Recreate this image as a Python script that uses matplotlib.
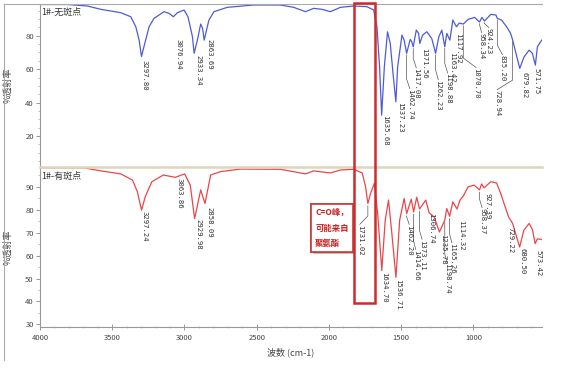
import matplotlib
matplotlib.use('Agg')
import matplotlib.pyplot as plt
import matplotlib.patheffects as pe
import matplotlib.transforms as mtransforms
from matplotlib.lines import Line2D
from matplotlib.patches import Rectangle
from matplotlib.ticker import MultipleLocator
import numpy as np

plt.rcParams['font.family'] = ['Noto Sans CJK SC', 'DejaVu Sans']

# ---------------------------------------------------------------------------
# Data: wavenumber (cm-1) and %T
# ---------------------------------------------------------------------------

title_top = '1#-无斑点'
title_bottom = '1#-有斑点'

wn_top = [4000, 3809, 3671, 3579, 3441, 3372, 3337, 3314, 3297.80, 3275, 3245,
          3211, 3142, 3107, 3076.94, 3049, 3003, 2976, 2945, 2933.34, 2911,
          2888, 2875, 2863.69, 2831, 2796, 2704, 2522, 2336, 2244, 2163, 2106,
          2048, 1990, 1921, 1829, 1737, 1691, 1668, 1650, 1635.68, 1617, 1595,
          1576, 1557, 1537.23, 1525, 1495, 1480, 1462.74, 1438, 1428, 1417.08,
          1396, 1380, 1371.56, 1352, 1323, 1289, 1262.23, 1240, 1219, 1198.88,
          1185, 1163.42, 1143, 1117.92, 1099, 1070.70, 1037, 992, 958.34, 942,
          924.23, 880, 845, 835.20, 806, 771, 743, 728.94, 700, 679.82, 650,
          615, 592, 571.75, 558, 528]
t_top = [98.7, 98.7, 97.8, 95.8, 93.8, 91.4, 85.4, 77.4, 67.6, 75.4, 85.4,
         90.4, 94.4, 93.4, 91.4, 93.8, 95.4, 91.4, 79.4, 69.5, 77.4,
         87.0, 84.5, 77.4, 89.4, 94.4, 97.0, 98.4, 98.4, 97.0, 94.4, 96.4,
         95.8, 94.4, 97.0, 97.8, 97.4, 95.4, 85.4, 61.4, 32.5, 61.4, 82.4,
         75.4, 57.5, 40.5, 61.4, 80.4, 77.4, 69.5, 77.8, 76.6, 73.4,
         83.4, 81.4, 75.4, 80.4, 82.4, 78.4, 69.5, 79.4, 83.4, 73.4,
         81.4, 77.4, 89.4, 85.4, 87.6, 87.0, 89.8, 91.0, 88.2, 91.0,
         88.8, 92.8, 92.4, 90.4, 89.4, 85.4, 81.4, 77.4, 67.4, 60.5, 67.4,
         71.4, 69.4, 62.4, 73.4, 77.4]

wn_bot = [4000, 3694, 3579, 3441, 3360, 3326, 3297.24, 3272, 3226, 3146,
          3063.86, 2999, 2960, 2929.98, 2888, 2858.09, 2819, 2750, 2612, 2336,
          2163, 2106, 1990, 1921, 1829, 1770, 1747, 1731.02, 1713, 1686, 1663,
          1634.70, 1611, 1588, 1565, 1536.71, 1511, 1480, 1462.20, 1431,
          1414.66, 1393, 1373.11, 1330, 1306.74, 1273, 1235.78, 1198.74, 1185,
          1165.26, 1143, 1114.32, 1093, 1070, 1037, 995, 958.37, 944, 927.39,
          880, 840, 812, 757, 729.22, 705, 680.50, 652, 615, 592, 573.42, 558,
          528]
t_bot = [98.3, 98.2, 96.9, 95.6, 92.9, 87.8, 79.8, 85.6, 92.2, 95.1,
         94.1, 95.6, 90.7, 76.1, 88.6, 82.7, 95.1, 96.6, 97.7, 97.6,
         95.6, 96.9, 96.0, 97.3, 97.6, 96.0, 90.0, 82.7, 87.0, 91.5, 78.3,
         53.5, 75.4, 84.2, 69.6, 50.5, 75.4, 84.9, 78.3, 84.6,
         79.0, 85.4, 80.3, 84.2, 78.6, 76.9, 70.3, 75.4, 80.5,
         77.1, 83.4, 80.3, 84.2, 86.0, 90.0, 90.7, 88.6, 91.2, 89.5,
         92.2, 91.6, 87.1, 76.8, 74.0, 68.8, 63.7, 71.0, 74.0, 71.3, 65.2, 67.3,
         67.0]

peaks_top = [3297.80, 3076.94, 2933.34, 2863.69, 1635.68, 1537.23, 1462.74,
             1417.08, 1371.56, 1262.23, 1198.88, 1163.42, 1117.92, 1070.70,
             958.34, 924.23, 835.20, 728.94, 679.82, 571.75]
peaks_bot = [3297.24, 3063.86, 2929.98, 2858.09, 1731.02, 1634.70, 1536.71,
             1462.20, 1414.66, 1373.11, 1306.74, 1235.78, 1198.74, 1165.26,
             1114.32, 958.37, 927.39, 729.22, 680.50, 573.42]

note_text = 'C=O峰，\n可能来自\n聚氨酯'
ylabel = '%透射率'
xlabel = '波数 (cm-1)'

# ---------------------------------------------------------------------------
# Label placement (layout only)
# ---------------------------------------------------------------------------

labx_top = [3278, 3043, 2905, 2829, 1614, 1510, 1441, 1396, 1345, 1244, 1179,
            1151, 1110, 982, 944, 893, 800, 836, 650, 561]
laby_top = [65.4, 78, 68.4, 78, 32.5, 40.5, 48.1, 60.5, 72.4, 53.5, 57.5,
            70.4, 81.4, 60.7, 81.6, 84.6, 68.4, 47.5, 58.3, 60.7]
lead_top = [1462.74, 1417.08, 1262.23, 1198.88, 1070.70, 958.34, 924.23,
            835.20, 728.94]

labx_bot = [3275, 3033, 2905, 2829, 1787, 1617, 1524, 1445, 1400, 1356, 1296,
            1213, 1182, 1150, 1089, 941, 903, 744, 658, 550]
laby_bot = [79.5, 93.7, 75.8, 81.3, 73.3, 52.9, 50, 73.3, 62.4, 66.8, 78.4,
            69.4, 56.6, 65.3, 75.5, 80.6, 87.1, 72.6, 63.1, 62.4]
lead_bot = [1731.02, 1462.20, 1414.66, 1373.11, 1198.74, 1165.26, 958.37]

W, H = 563, 375
fig = plt.figure(figsize=(W / 100, H / 100), dpi=100)
fig.patch.set_facecolor('white')

ax1 = fig.add_axes([40 / W, 1 - 166.5 / H, 501.7 / W, 162.5 / H])
ax2 = fig.add_axes([40 / W, 1 - 326.7 / H, 501.7 / W, 159.7 / H])

ax1.plot(wn_top, t_top, color='#4f5bd5', lw=0.9)
ax2.plot(wn_bot, t_bot, color='#e8474a', lw=0.9)

for ax in (ax1, ax2):
    ax.set_xlim(4000, 528)
    ax.spines['right'].set_visible(False)
    ax.spines['left'].set_color('#999999')
    ax.tick_params(axis='y', which='major', direction='out', length=3,
                   width=0.6, color='#888888', labelsize=5.5, labelcolor='#444444', pad=1.5)
    ax.tick_params(axis='y', which='minor', direction='out', length=1.5,
                   width=0.5, color='#aaaaaa')
    ax.yaxis.set_minor_locator(MultipleLocator(5))
    ax.set_ylabel(ylabel, fontsize=6.5, color='#444444')
    ax.yaxis.set_label_coords(-28 / 501.7, 0.5)

ax1.set_ylim(1.8, 99)
ax1.set_yticks([20, 40, 60, 80])
ax1.set_xticks([])
ax1.spines['bottom'].set_visible(False)
ax1.spines['top'].set_color('#aaaaaa')

ax2.set_ylim(29, 98.6)
ax2.set_yticks([30, 40, 50, 60, 70, 80, 90])
ax2.spines['top'].set_color('#ddd6bc')
ax2.spines['top'].set_linewidth(1.8)
ax2.spines['bottom'].set_color('#999999')
ax2.set_xticks([4000, 3500, 3000, 2500, 2000, 1500, 1000])
ax2.xaxis.set_minor_locator(MultipleLocator(100))
ax2.tick_params(axis='x', which='major', direction='inout', length=4, width=0.6,
                color='#888888', labelsize=5.5, labelcolor='#444444', pad=3)
ax2.tick_params(axis='x', which='minor', direction='inout', length=2, width=0.5,
                color='#aaaaaa')
ax2.set_xlabel(xlabel, fontsize=6.5, color='#444444', labelpad=4)

ax1.text(0.003, 0.975, title_top, transform=ax1.transAxes, fontsize=6.5,
         va='top', ha='left', color='#333333')
ax2.text(0.003, 0.97, title_bottom, transform=ax2.transAxes, fontsize=6.5,
         va='top', ha='left', color='#333333')


def label_peaks(ax, wn, t, peaks, lab_x, lab_y, leaders, knee):
    wn_r = np.array(wn)[::-1]
    t_r = np.array(t)[::-1]
    for p, lx, ly in zip(peaks, lab_x, lab_y):
        ax.text(lx, ly, f'{p:.2f}', rotation=270, ha='center', va='top',
                family='DejaVu Sans Mono', fontsize=5.2, color='#333333')
        if p in leaders:
            py = np.interp(p, wn_r, t_r)
            ky = min(ly + knee, py - 1.5)
            ax.plot([p, p, lx], [py - 1, ky, ly + 0.3], color='#555555', lw=0.5)


label_peaks(ax1, wn_top, t_top, peaks_top, labx_top, laby_top, lead_top, 6)
label_peaks(ax2, wn_bot, t_bot, peaks_bot, labx_bot, laby_bot, lead_bot, 4)

# red highlight box around the C=O band, spanning both panels
blend = mtransforms.blended_transform_factory(ax2.transData, fig.transFigure)
fig.add_artist(Rectangle((1680, 1 - 303 / H), 145, 300 / H, transform=blend,
                         fill=False, edgecolor='#d02a2a', lw=1.8, zorder=10))

note = ax2.text(1979, 72, note_text, fontsize=6, color='#c82020',
                fontweight='bold', ha='center', va='center', ma='left',
                linespacing=1.9, zorder=11,
                bbox=dict(boxstyle='square,pad=0.5', facecolor='white',
                          edgecolor='#c83a3a', lw=1.2))
note.get_bbox_patch().set_path_effects([
    pe.withSimplePatchShadow(offset=(1.5, -1.5), shadow_rgbFace='#999999', alpha=0.6),
    pe.Normal()])

# outer frame of the pasted picture
fig.add_artist(Line2D([4 / W, 4 / W], [1 - 4 / H, 1 - 360 / H],
                      transform=fig.transFigure, color='#aaaaaa', lw=0.8))
fig.add_artist(Line2D([4 / W, 40 / W], [1 - 4 / H, 1 - 4 / H],
                      transform=fig.transFigure, color='#aaaaaa', lw=0.8))

fig.savefig('out.png', dpi=100)
